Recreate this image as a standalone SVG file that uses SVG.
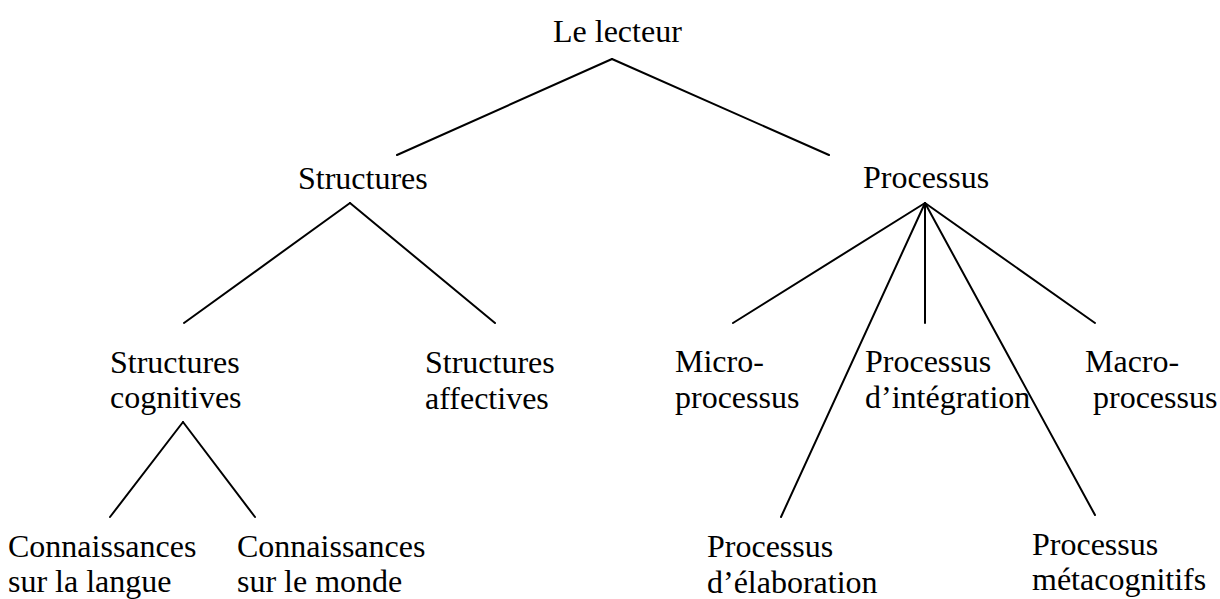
<svg xmlns="http://www.w3.org/2000/svg" width="1220" height="599" viewBox="0 0 1220 599">
<style>
text{font-family:"Liberation Serif","Times New Roman",serif;font-size:32px;fill:#000}
.c line{stroke:#000;stroke-width:2;stroke-linecap:round}
</style>
<rect width="1220" height="599" fill="#fff"/>
<g class="c" id="connectors">
<line x1="612" y1="59" x2="397" y2="155"/>
<line x1="612" y1="59" x2="829" y2="155"/>
<line x1="350" y1="203" x2="184" y2="323"/>
<line x1="350" y1="203" x2="495" y2="323"/>
<line x1="183" y1="422" x2="110" y2="517"/>
<line x1="183" y1="422" x2="255" y2="517"/>
<line x1="925" y1="203" x2="733" y2="323"/>
<line x1="925" y1="203" x2="781" y2="517"/>
<line x1="925" y1="203" x2="925" y2="323"/>
<line x1="925" y1="203" x2="1095" y2="515"/>
<line x1="925" y1="203" x2="1095" y2="323"/>
</g>
<g id="lecteur"><text x="553" y="42">Le lecteur</text></g>
<g id="structures"><text x="298" y="189">Structures</text></g>
<g id="processus"><text x="863" y="188">Processus</text></g>
<g id="struct-cog"><text x="110" y="373">Structures</text><text x="110" y="408">cognitives</text></g>
<g id="struct-aff"><text x="425" y="373">Structures</text><text x="425" y="409">affectives</text></g>
<g id="micro"><text x="675" y="372">Micro-</text><text x="675" y="408">processus</text></g>
<g id="integration"><text x="865" y="372">Processus</text><text x="865" y="408">d’intégration</text></g>
<g id="macro"><text x="1085" y="372">Macro-</text><text x="1093" y="408">processus</text></g>
<g id="conn-langue"><text x="8" y="557">Connaissances</text><text x="8" y="592">sur la langue</text></g>
<g id="conn-monde"><text x="237" y="557">Connaissances</text><text x="237" y="592">sur le monde</text></g>
<g id="elaboration"><text x="707" y="557">Processus</text><text x="707" y="593">d’élaboration</text></g>
<g id="metacog"><text x="1032" y="555">Processus</text><text x="1032" y="590">métacognitifs</text></g>
</svg>
